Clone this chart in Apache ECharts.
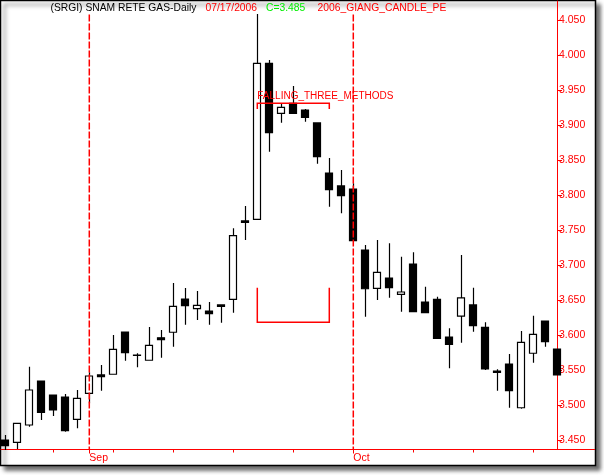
<!DOCTYPE html>
<html>
<head>
<meta charset="utf-8">
<script src="https://cdn.jsdelivr.net/npm/echarts@6/dist/echarts.min.js"></script>
<style>html,body{margin:0;padding:0;background:#fff}#c{width:604px;height:475px}</style>
</head>
<body>
<div id="c"></div>
<script>
// Candle index (trading days from late August to mid October 2006)
const candleIndex = [0,1,2,3,4,5,6,7,8,9,10,11,12,13,14,15,16,17,18,19,20,21,22,23,24,25,26,27,28,29,30,31,32,33,34,35,36,37,38,39,40,41,42,43,44,45,46];
const opens  = [3.4500,3.4467,3.4714,3.5343,3.5143,3.5114,3.4796,3.5167,3.5429,3.5439,3.6043,3.5708,3.5639,3.5960,3.6039,3.6514,3.6376,3.6343,3.6430,3.6510,3.7630,3.7653,3.9881,3.9167,3.9310,3.9214,3.9029,3.8314,3.8129,3.8086,3.7214,3.6667,3.6814,3.6581,3.7014,3.6471,3.6510,3.5971,3.6271,3.6429,3.6110,3.5486,3.5586,3.4961,3.5739,3.6200,3.5800];
const closes = [3.4419,3.4738,3.5214,3.4896,3.4929,3.4633,3.5096,3.5414,3.5404,3.5796,3.5747,3.5712,3.5853,3.5935,3.6410,3.6419,3.6424,3.6304,3.6408,3.7419,3.7608,3.9881,3.8890,3.9253,3.9167,3.9110,3.8547,3.8076,3.7990,3.7347,3.6661,3.6896,3.6676,3.6614,3.6333,3.6319,3.5953,3.5867,3.6529,3.6133,3.5514,3.5466,3.5204,3.5896,3.6010,3.5904,3.5429];
const lows   = [3.4357,3.4371,3.4690,3.4786,3.4843,3.4619,3.4667,3.5024,3.5204,3.5439,3.5633,3.5539,3.5639,3.5676,3.5833,3.6147,3.6214,3.6147,3.6176,3.6319,3.7357,3.7653,3.8619,3.9033,3.9167,3.9047,3.8447,3.7833,3.7738,3.7347,3.6261,3.6500,3.6533,3.6333,3.6333,3.6319,3.5953,3.5524,3.5890,3.6047,3.5500,3.5204,3.4961,3.4947,3.5604,3.5833,3.5429];
const highs  = [3.4571,3.4738,3.5547,3.5343,3.5143,3.5157,3.5214,3.5467,3.5571,3.6000,3.6043,3.5739,3.6114,3.6071,3.6743,3.6671,3.6629,3.6471,3.6430,3.7524,3.7843,4.0586,3.9929,3.9300,3.9557,3.9229,3.9029,3.8529,3.8357,3.8167,3.7286,3.7357,3.7310,3.7119,3.7181,3.6690,3.6547,3.6096,3.7143,3.6676,3.6181,3.5510,3.5729,3.6057,3.6276,3.6200,3.5800];

// Axis ticks / labels
const yTicks = [3.45,3.50,3.55,3.60,3.65,3.70,3.75,3.80,3.85,3.90,3.95,4.00,4.05];
const weekTicks = [4,9,14,19,24,29,34,39,44];
const monthStarts = [7,29];
const monthNames = ['Sep','Oct'];
const monthLineTop = 4.058;

// Pattern annotation (FALLING_THREE_METHODS)
const patternName = 'FALLING_THREE_METHODS';
const patternStart = 21, patternEnd = 27;
const bracketTop = 3.9310, bracketTopTick = 3.9229;
const boxTop = 3.6676, boxBottom = 3.6181;

const Y_MIN = 3.436429, Y_MAX = 4.077143;
const candleData = candleIndex.map((x, i) => [x, opens[i], closes[i], lows[i], highs[i]]);

const RED = '#ff0000';
const FONT = '"Liberation Sans", Arial, sans-serif';
const titleStyle = c => ({color: c, fontSize: 10.3, fontWeight: 'normal', fontFamily: FONT, lineHeight: 12});

const chart = echarts.init(document.getElementById('c'), null, {renderer: 'canvas'});
chart.setOption({
  animation: false,
  backgroundColor: '#ffffff',
  title: [
    {text: '(SRGI) SNAM RETE GAS-Daily', left: 50.5, top: 2, padding: 0, textStyle: titleStyle('#000')},
    {text: '07/17/2006', left: 205.5, top: 2, padding: 0, textStyle: titleStyle(RED)},
    {text: 'C=3.485', left: 266, top: 2, padding: 0, textStyle: titleStyle('#00ee00')},
    {text: '2006_GIANG_CANDLE_PE', left: 317.5, top: 2, padding: 0, textStyle: titleStyle(RED)}
  ],
  graphic: [
    {type: 'rect', z: -10, shape: {x: 0.5, y: 0.5, width: 595, height: 465},
     style: {fill: '#fff', stroke: '#000', lineWidth: 1.5, shadowColor: 'rgba(0,0,0,0.55)', shadowOffsetX: 4, shadowOffsetY: 4, shadowBlur: 4}},
    {type: 'line', z: 10, shape: {x1: 557, y1: 449.5, x2: 595, y2: 449.5}, style: {stroke: RED, lineWidth: 1}}
  ],
  grid: {left: 1, top: 1, width: 556, height: 448.5, containLabel: false},
  xAxis: [
    {type: 'value', min: -0.3583, max: 45.975, position: 'bottom',
     axisLine: {show: true, onZero: false, lineStyle: {color: RED, width: 1}},
     axisTick: {show: true, customValues: weekTicks, length: 3, lineStyle: {color: RED}},
     axisLabel: {show: false}, splitLine: {show: false}},
    {type: 'value', min: -0.3583, max: 45.975, position: 'bottom',
     axisLine: {show: false},
     axisTick: {show: true, customValues: monthStarts, length: 6, lineStyle: {color: RED, type: [4, 2]}},
     axisLabel: {show: true, customValues: monthStarts, margin: 3, align: 'left', color: RED, fontSize: 10.5, fontFamily: FONT,
       formatter: v => monthNames[monthStarts.indexOf(Math.round(v))] || ''},
     splitLine: {show: false}}
  ],
  yAxis: {
    type: 'value', position: 'right', min: Y_MIN, max: Y_MAX, scale: true,
    axisLine: {show: true, onZero: false, lineStyle: {color: RED, width: 1}},
    axisTick: {show: true, customValues: yTicks, length: 5, lineStyle: {color: RED}},
    axisLabel: {show: true, customValues: yTicks, margin: 2, color: RED, fontSize: 10.5, fontFamily: FONT,
      formatter: v => v.toFixed(3)},
    splitLine: {show: false}
  },
  series: [
    {
      type: 'candlestick', xAxisIndex: 0, yAxisIndex: 0, z: 2,
      data: candleData,
      encode: {x: 0, y: [1, 2, 3, 4]},
      barWidth: 7.5,
      itemStyle: {color: '#ffffff', color0: '#000000', borderColor: '#000000', borderColor0: '#000000', borderWidth: 1.2}
    },
    {
      type: 'custom', xAxisIndex: 0, yAxisIndex: 0, silent: true, z: 5,
      data: [[patternStart, patternEnd]],
      encode: {x: [0, 1]},
      renderItem: function (params, api) {
        const a = api.coord([api.value(0), bracketTop]);
        const b = api.coord([api.value(1), bracketTop]);
        const at = api.coord([api.value(0), bracketTopTick]);
        const bt = api.coord([api.value(1), bracketTopTick]);
        const c1 = api.coord([api.value(0), boxTop]);
        const c2 = api.coord([api.value(0), boxBottom]);
        const d1 = api.coord([api.value(1), boxTop]);
        const d2 = api.coord([api.value(1), boxBottom]);
        const ls = {stroke: RED, lineWidth: 1.5, fill: null};
        const children = [
          {type: 'polyline', shape: {points: [at, a, b, bt]}, style: ls},
          {type: 'polyline', shape: {points: [c1, c2, d2, d1]}, style: ls},
          {type: 'text', style: {text: patternName, x: a[0], y: a[1] - 7.5, fill: RED, font: '10px ' + FONT, textAlign: 'left', textVerticalAlign: 'middle'}}
        ];
        // month separator lines
        monthStarts.forEach(m => {
          const t = api.coord([m, monthLineTop]);
          const bt2 = api.coord([m, Y_MIN]);
          children.push({type: 'polyline', shape: {points: [[t[0], t[1]], [t[0], bt2[1]]]},
            style: {stroke: RED, lineWidth: 1.5, fill: null, lineDash: [7, 2]}});
        });
        return {type: 'group', children: children};
      }
    }
  ]
});
</script>
</body>
</html>
